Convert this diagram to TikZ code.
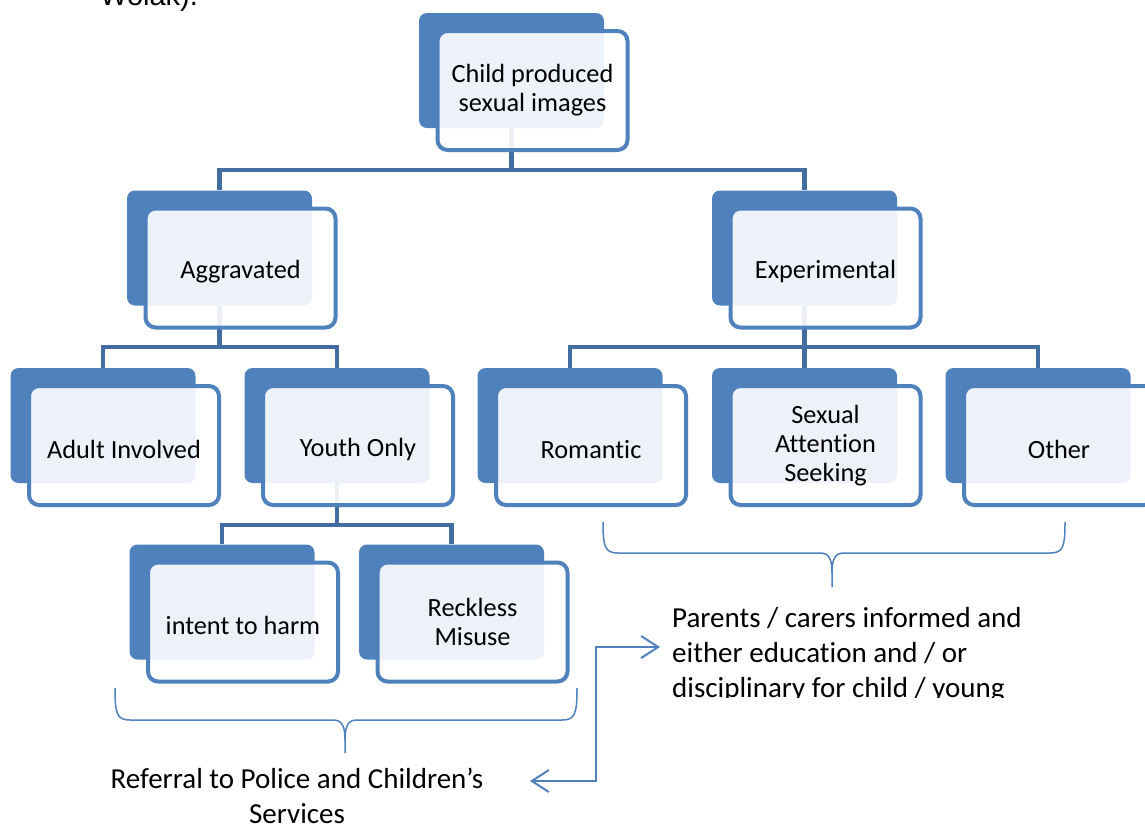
\documentclass[tikz,border=0pt]{standalone}
\usepackage{fontspec}
\setmainfont{Carlito}[Ligatures=NoCommon]
\newfontfamily\citefont{Liberation Sans}
\usepackage{tikz}
\usetikzlibrary{shapes,arrows,arrows.meta,positioning,fit,backgrounds}
\definecolor{boxblue}{RGB}{79,129,189}
\definecolor{treeblue}{RGB}{66,109,161}
\tikzstyle{boxback} = [rectangle, rounded corners=8pt, fill=boxblue, minimum width=185pt, minimum height=115pt, inner sep=0pt]
\tikzstyle{boxfront} = [rectangle, rounded corners=10pt, draw=boxblue, line width=4pt, fill=white, fill opacity=0.9, text opacity=1, text=black, align=center, font=\fontsize{26.3}{29}\selectfont, execute at begin node={\rule{0pt}{26pt}}, minimum width=190pt, minimum height=119pt, inner sep=0pt]
\tikzstyle{tree} = [draw=treeblue, line width=4.5pt]
\tikzstyle{note} = [text=black, font=\fontsize{29}{35}\selectfont, inner sep=0pt]
\tikzstyle{brace} = [draw=boxblue, line width=1.5pt]
\tikzstyle{link}  = [draw=boxblue, line width=2pt, >={Straight Barb[length=17pt,width=22pt]}, <->]

\begin{document}
\begin{tikzpicture}[x=1pt, y=-1pt]
\useasboundingbox (0,0) rectangle (1145,823);
\clip (0,0) rectangle (1145,823);

% boxes =============================

% root
\node[boxback] (topb) at (511.5,70.5) {};
\node[boxfront] (top) at ([shift={(21,20)}]topb.center) {Child produced\\sexual images};

% second row
\node[boxback] (aggb) at (219.5,248) {};
\node[boxfront] (agg) at ([shift={(21,20)}]aggb.center) {Aggravated};
\node[boxback] (expb) at (804.5,248) {};
\node[boxfront] (exp) at ([shift={(21,20)}]expb.center) {Experimental};

% third row
\node[boxback] (adultb) at (103,425.5) {};
\node[boxfront] (adult) at ([shift={(21,20)}]adultb.center) {Adult Involved};
\node[boxback] (youthb) at (337,425.5) {};
\node[boxfront] (youth) at ([shift={(21,20)}]youthb.center) {Youth Only};
\node[boxback] (romb) at (570,425.5) {};
\node[boxfront] (rom) at ([shift={(21,20)}]romb.center) {Romantic};
\node[boxback] (seekb) at (804.5,425.5) {};
\node[boxfront] (seek) at ([shift={(21,20)}]seekb.center) {Sexual\\Attention\\Seeking};
\node[boxback] (otherb) at (1038,425.5) {};
\node[boxfront] (other) at ([shift={(21,20)}]otherb.center) {Other};

% fourth row
\node[boxback] (harmb) at (222,602) {};
\node[boxfront] (harm) at ([shift={(21,20)}]harmb.center) {intent to harm};
\node[boxback] (reckb) at (451.5,602) {};
\node[boxfront] (reck) at ([shift={(21,20)}]reckb.center) {Reckless\\Misuse};

% texts
\node[font=\citefont\fontsize{29}{35}\selectfont, anchor=base west, inner sep=0pt] (cite) at (100,5) {Wolak).};
\node[note, anchor=north, align=center] (refer) at (297,768) {Referral to Police and Children’s\\Services};
\begin{scope}
\clip (600,590) rectangle (1145,697);
\node[note, anchor=north west, align=left] (parents) at (672,607) {Parents / carers informed and\\either education and / or\\disciplinary for child / young};
\end{scope}

% tree lines
\begin{pgfonlayer}{background}
\coordinate (j0) at (511.5,170);
\coordinate (j1) at (219.5,347);
\coordinate (j2) at (804.5,347);
\coordinate (j3) at (337,525);
\draw[tree] (topb.south) -- (j0) -| (aggb.north);
\draw[tree] (j0) -| (expb.north);
\draw[tree] (aggb.south) -- (j1) -| (adultb.north);
\draw[tree] (j1) -| (youthb.north);
\draw[tree] (expb.south) -- (j2) -| (romb.north);
\draw[tree] (j2) -| (otherb.north);
\draw[tree] (j2) -- (seekb.north);
\draw[tree] (youthb.south) -- (j3) -| (harmb.north);
\draw[tree] (j3) -| (reckb.north);
\end{pgfonlayer}

% braces
\draw[brace] (115,688) .. controls (115,714) and (117,720) .. (130,720) -- (333,720) .. controls (342,720) and (345,726) .. (345,740) -- (345,753);
\draw[brace] (577,688) .. controls (577,714) and (575,720) .. (562,720) -- (357,720) .. controls (348,720) and (345,726) .. (345,740);
\draw[brace] (603,522) .. controls (603,547) and (605,553) .. (618,553) -- (820,553) .. controls (829,553) and (832,559) .. (832,573) -- (832,587);
\draw[brace] (1065,522) .. controls (1065,547) and (1063,553) .. (1050,553) -- (844,553) .. controls (835,553) and (832,559) .. (832,573);

% arrow between outcomes
\coordinate (tipL) at (530,781);
\coordinate (tipR) at (660,647);
\path[link] (tipR) -- ++(-64,0) |- (tipL);

\end{tikzpicture}
\end{document}
